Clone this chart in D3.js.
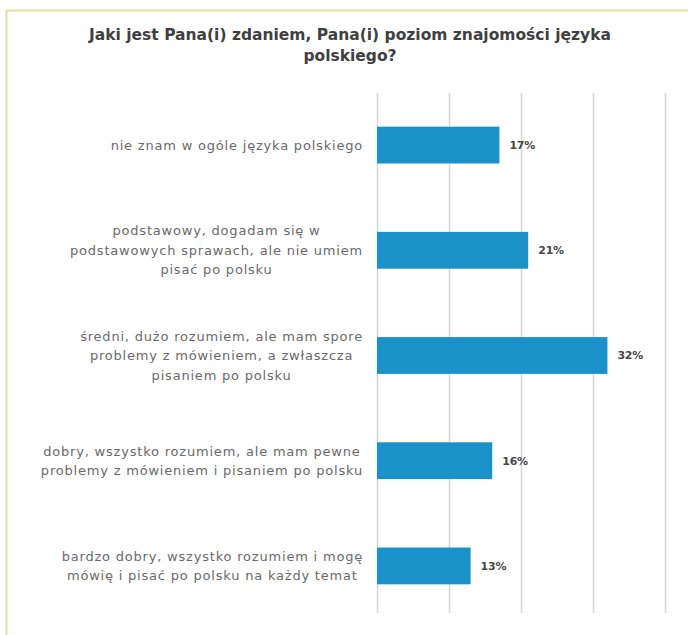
<!DOCTYPE html>
<html>
<head>
<meta charset="utf-8">
<script src="https://cdn.jsdelivr.net/npm/d3@7"></script>
<style>
  html, body { margin: 0; padding: 0; background: #fff; }
  svg { display: block; }
</style>
</head>
<body>
<div id="chart"></div>
<script>
// Survey answers (each line of a category label is one array entry)
const categories = [
  ["nie znam w ogóle języka polskiego"],
  ["podstawowy, dogadam się w", "podstawowych sprawach, ale nie umiem", "pisać po polsku"],
  ["średni, dużo rozumiem, ale mam spore", "problemy z mówieniem, a zwłaszcza", "pisaniem po polsku"],
  ["dobry, wszystko rozumiem, ale mam pewne", "problemy z mówieniem i pisaniem po polsku"],
  ["bardzo dobry, wszystko rozumiem i mogę", "mówię i pisać po polsku na każdy temat"]
];
const shares = [17, 21, 32, 16, 13];
const gridTicks = [0, 10, 20, 30, 40];
const titleLines = ["Jaki jest Pana(i) zdaniem, Pana(i) poziom znajomości języka", "polskiego?"];

const W = 688, H = 635;
const svg = d3.select("#chart").append("svg").attr("width", W).attr("height", H);

// Pale yellow frame along the top and left edge
svg.append("path")
  .attr("d", `M6.5,${H} V10.5 H${W}`)
  .attr("fill", "none")
  .attr("stroke", "#e6e29a")
  .attr("stroke-width", 2);

const font = "'Century Gothic', 'DejaVu Sans', sans-serif";

// Title
svg.append("g").selectAll("text")
  .data(titleLines)
  .join("text")
  .attr("x", 350)
  .attr("y", (d, i) => 40 + i * 21)
  .attr("text-anchor", "middle")
  .attr("font-family", font)
  .attr("font-weight", "bold")
  .attr("font-size", 15.5)
  .attr("fill", "#3f3f3f")
  .text(d => d);

// Scales
const x = d3.scaleLinear().domain([0, 40]).range([377, 665]);
const y = d3.scaleBand()
  .domain(d3.range(categories.length))
  .range([93, 618])
  .paddingInner(0.65)
  .paddingOuter(0.32);

// Vertical gridlines
svg.append("g")
  .attr("transform", "translate(0,93)")
  .call(d3.axisBottom(x).tickValues(gridTicks).tickSize(520).tickFormat(""))
  .call(g => g.select(".domain").remove())
  .call(g => g.selectAll(".tick line").attr("stroke", "#d9d6d6").attr("stroke-width", 1.5));

// Bars
svg.append("g").selectAll("rect")
  .data(shares)
  .join("rect")
  .attr("x", x(0))
  .attr("y", (d, i) => y(i))
  .attr("width", d => x(d) - x(0))
  .attr("height", y.bandwidth())
  .attr("fill", "#1a92c9");

// Value labels
svg.append("g").selectAll("text")
  .data(shares)
  .join("text")
  .attr("x", d => x(d) + 10)
  .attr("y", (d, i) => y(i) + y.bandwidth() / 2)
  .attr("dy", "0.35em")
  .attr("font-family", font)
  .attr("font-weight", "bold")
  .attr("font-size", 11)
  .attr("letter-spacing", -0.2)
  .attr("fill", "#474747")
  .text(d => d + "%");

// Category labels: lines centred within a block whose right edge sits left of the axis
const labelRight = 363;
const lineH = 19.5;
categories.forEach((lines, i) => {
  const cy = y(i) + y.bandwidth() / 2;
  const g = svg.append("g");
  const texts = g.selectAll("text")
    .data(lines)
    .join("text")
    .attr("y", (d, j) => cy + (j - (lines.length - 1) / 2) * lineH)
    .attr("dy", "0.35em")
    .attr("text-anchor", "middle")
    .attr("font-family", font)
    .attr("font-size", 13)
    .attr("letter-spacing", 0.8)
    .attr("fill", "#6a6a6a")
    .text(d => d);
  const maxW = d3.max(texts.nodes(), n => n.getComputedTextLength());
  texts.attr("x", labelRight - maxW / 2);
});
</script>
</body>
</html>
